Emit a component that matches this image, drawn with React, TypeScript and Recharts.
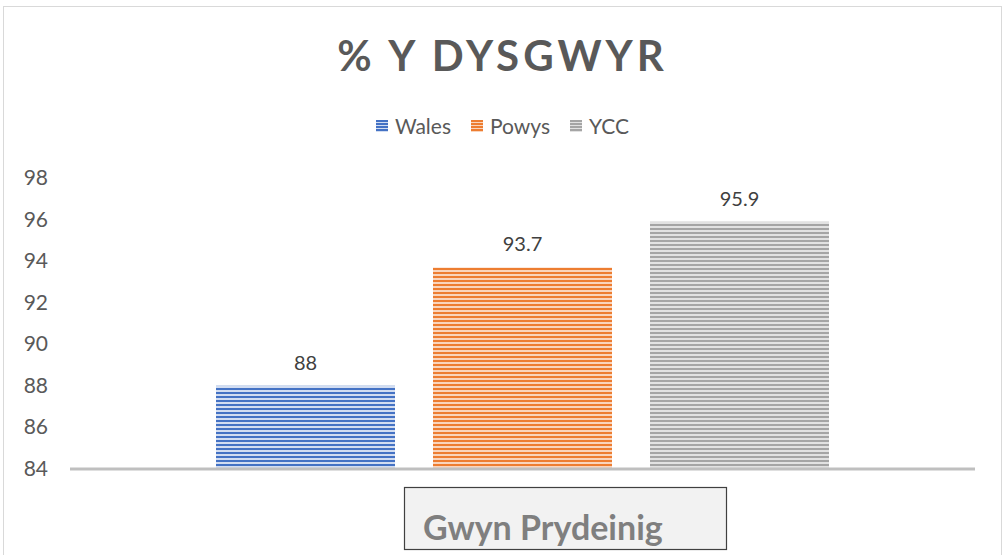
import { Bar, BarChart, LabelList, XAxis, YAxis } from "recharts";

const categories = ["Gwyn Prydeinig"];
const seriesNames = ["Wales", "Powys", "YCC"];
const walesValues = [88];
const powysValues = [93.7];
const yccValues = [95.9];
const yTicks = [84, 86, 88, 90, 92, 94, 96, 98];

const data = categories.map((name, i) => ({
	name,
	Wales: walesValues[i],
	Powys: powysValues[i],
	YCC: yccValues[i],
}));

const stripes: Record<string, { dark: string; light: string }> = {
	Wales: { dark: "#4472C4", light: "#D2DDF1" },
	Powys: { dark: "#ED7D31", light: "#F9D5BD" },
	YCC: { dark: "#A5A5A5", light: "#E2E2E2" },
};

const font = "Lato, 'Open Sans', sans-serif";

function YTick(props: any) {
	return (
		<text x={48} y={props.y} dy={7} textAnchor="end" fill="#595959" fontSize={21} fontFamily={font}>
			{props.payload.value}
		</text>
	);
}

function XTick(props: any) {
	return (
		<g>
			<rect x={404.5} y={487.5} width={322} height={62} fill="#F2F2F2" stroke="#404040" strokeWidth={1.2} />
			<text x={423} y={540} fill="#7F7F7F" fontSize={34} fontWeight={700} fontFamily={font}>
				{props.payload.value}
			</text>
		</g>
	);
}

export default function App() {
	return (
		<div style={{ position: "absolute", left: 0, top: 0, width: 1005, height: 555, overflow: "hidden", background: "#fff" }}>
			<div
				style={{
					position: "absolute",
					left: 3,
					top: 6,
					width: 997,
					height: 560,
					border: "1px solid #D9D9D9",
				}}
			/>
			<div
				style={{
					position: "absolute",
					left: 0,
					top: 30,
					width: 1005,
					textAlign: "center",
					fontFamily: font,
					fontWeight: 700,
					fontSize: 42,
					letterSpacing: 4,
					color: "#595959",
				}}
			>
				% Y DYSGWYR
			</div>
			<div
				style={{
					position: "absolute",
					left: 0,
					top: 113,
					width: 1005,
					display: "flex",
					justifyContent: "center",
					gap: 20,
					fontFamily: font,
					fontSize: 21,
					color: "#595959",
				}}
			>
				{seriesNames.map((s) => (
					<div key={s} style={{ display: "flex", alignItems: "center", gap: 7 }}>
						<span
							style={{
								display: "inline-block",
								width: 12,
								height: 12,
								background: `repeating-linear-gradient(${stripes[s].dark} 0 2px, ${stripes[s].light} 2px 3px)`,
							}}
						/>
						<span>{s}</span>
					</div>
				))}
			</div>
			<div style={{ position: "absolute", left: 0, top: 0 }}>
				<BarChart
					width={1005}
					height={555}
					data={data}
					margin={{ top: 178, right: 30, bottom: 0, left: 0 }}
					barGap={38}
					barSize={179}
				>
					<defs>
						{seriesNames.map((s) => (
							<pattern key={s} id={`stripe-${s}`} width={8} height={4} patternUnits="userSpaceOnUse">
								<rect width={8} height={4} fill={stripes[s].light} />
								<rect width={8} height={2} fill={stripes[s].dark} />
							</pattern>
						))}
					</defs>
					<YAxis
						width={70}
						domain={[84, 98]}
						ticks={yTicks}
						axisLine={false}
						tickLine={false}
						tick={<YTick />}
						interval={0}
					/>
					<XAxis
						dataKey="name"
						height={86}
						axisLine={{ stroke: "#BFBFBF", strokeWidth: 3 }}
						tickLine={false}
						tick={<XTick />}
					/>
					{seriesNames.map((s) => (
						<Bar key={s} dataKey={s} fill={`url(#stripe-${s})`} isAnimationActive={false}>
							<LabelList
								dataKey={s}
								position="top"
								offset={16}
								fill="#404040"
								fontSize={20}
								fontFamily={font}
							/>
						</Bar>
					))}
				</BarChart>
			</div>
		</div>
	);
}
